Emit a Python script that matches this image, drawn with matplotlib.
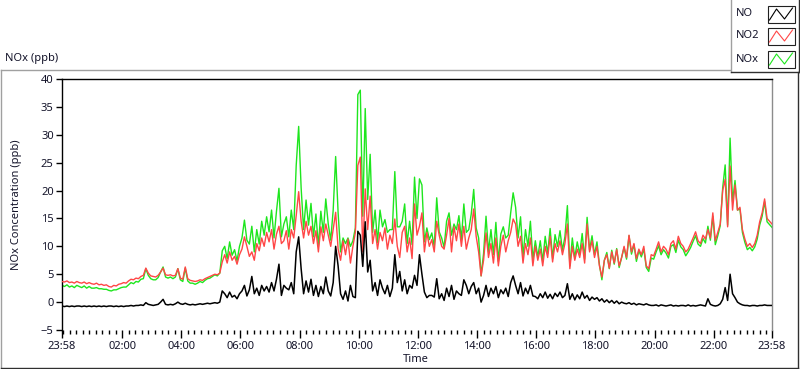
import numpy as np
import matplotlib
matplotlib.use("Agg")
import matplotlib.pyplot as plt
from matplotlib.lines import Line2D
from matplotlib.patches import Rectangle

plt.rcParams['font.family'] = ['Noto Sans', 'DejaVu Sans']

# ---- data (5-minute samples starting at 23:58) ----
NO2 = [
    3.7,3.6,3.8,3.5,3.6,3.4,3.7,3.5,3.4,3.6,3.3,3.5,
    3.3,3.2,3.4,3.1,3.2,3.0,3.1,2.8,2.7,3.0,2.9,3.2,
    3.3,3.5,3.4,3.8,4.1,4.0,4.3,4.2,4.6,4.8,6.1,5.2,
    4.7,4.6,4.5,4.8,5.4,6.1,4.9,4.8,4.9,4.7,4.8,6.0,
    4.3,4.1,6.3,4.2,3.9,3.8,3.7,3.8,4.0,3.9,4.2,4.4,
    4.6,4.8,5.0,4.9,5.2,7.2,8.5,7.0,9.0,7.5,8.2,6.8,
    8.5,9.5,11.7,10.0,8.2,9.0,7.5,10.5,9.2,11.5,10.0,12.5,
    10.8,13.0,9.5,12.2,13.6,10.5,11.0,12.8,9.5,13.0,11.5,15.5,
    19.8,14.5,11.5,14.5,12.0,13.6,10.5,12.8,9.0,13.5,11.0,14.0,
    12.0,10.0,13.0,16.1,9.5,7.5,11.0,8.5,11.3,7.0,10.0,12.5,
    24.5,26.0,9.0,20.3,13.0,19.0,10.5,13.0,9.5,12.5,11.0,13.3,
    9.5,12.0,10.5,14.9,10.0,8.0,12.5,13.6,9.0,11.5,7.8,17.6,
    12.0,13.6,16.0,9.0,12.5,10.0,11.2,9.0,14.5,12.0,10.0,9.5,
    12.0,15.0,9.0,13.5,11.0,14.0,10.0,13.6,9.5,11.5,13.0,16.7,
    11.8,9.0,4.7,7.5,12.4,8.0,10.5,7.0,11.5,6.5,10.0,12.0,
    9.0,11.0,12.5,14.9,14.0,10.0,11.8,7.0,10.5,8.5,11.5,6.5,
    10.0,7.5,9.5,6.5,10.0,8.0,11.8,7.2,10.5,9.0,11.0,8.5,
    10.5,14.0,6.0,10.0,7.5,9.5,8.0,10.5,7.0,14.0,9.0,11.0,
    8.0,10.0,6.5,4.5,7.5,8.5,6.1,9.0,7.0,9.4,6.5,8.0,
    10.0,8.0,12.0,9.0,10.5,7.8,9.5,8.5,10.0,6.5,6.0,8.5,
    8.3,9.5,10.8,9.0,10.0,9.5,8.5,10.5,11.0,9.5,11.8,10.5,
    10.0,9.0,9.5,10.5,11.5,12.6,11.0,10.5,12.0,11.3,13.0,11.5,
    16.0,11.0,12.5,14.0,20.0,22.0,13.5,24.4,16.5,21.0,16.5,17.0,
    13.0,11.3,10.0,10.5,9.8,10.5,12.0,14.4,16.0,18.5,15.0,14.5,14.0,
]

NO = [
    -0.7,-0.8,-0.7,-0.8,-0.7,-0.8,-0.7,-0.7,-0.8,-0.7,-0.8,-0.7,
    -0.8,-0.7,-0.8,-0.7,-0.8,-0.7,-0.8,-0.7,-0.7,-0.8,-0.7,-0.8,
    -0.7,-0.8,-0.7,-0.7,-0.6,-0.7,-0.6,-0.6,-0.5,-0.6,-0.1,-0.4,
    -0.5,-0.6,-0.5,-0.4,0.0,0.5,-0.4,-0.5,-0.4,-0.5,-0.3,0.0,
    -0.3,-0.4,-0.2,-0.4,-0.5,-0.4,-0.5,-0.4,-0.3,-0.4,-0.3,-0.2,
    -0.3,-0.2,-0.1,-0.2,0.0,2.0,1.5,0.8,1.8,0.9,1.2,0.6,
    1.5,2.0,3.0,1.1,2.2,4.6,1.5,2.5,1.2,3.0,2.0,2.8,
    1.8,3.5,2.0,4.1,6.8,1.2,3.0,2.5,2.2,3.5,1.5,9.0,
    11.7,6.0,1.5,3.8,1.8,4.1,1.2,3.0,1.0,2.8,1.5,4.5,
    2.0,1.1,3.5,10.0,6.5,1.5,0.5,2.0,0.2,3.0,1.0,0.8,
    12.7,12.0,6.4,14.4,5.4,7.5,2.0,3.5,1.2,4.0,2.5,1.5,
    3.0,1.0,2.5,8.5,3.5,5.5,2.0,4.0,1.5,3.0,2.5,4.8,
    3.0,8.5,5.0,1.8,0.8,1.2,1.2,0.9,4.2,0.6,1.5,0.3,
    2.5,1.0,3.0,0.5,2.0,1.5,1.2,4.0,3.0,1.5,2.8,3.5,
    1.5,2.5,0.0,1.2,3.0,1.0,2.5,1.5,2.8,0.8,2.2,1.5,
    2.5,1.0,3.5,4.7,3.0,1.5,3.5,1.1,2.5,1.5,3.0,1.1,
    1.0,0.6,1.5,0.8,1.8,0.7,1.4,0.6,1.6,1.0,1.8,0.8,
    1.2,3.3,0.5,1.5,0.4,1.3,0.6,1.8,0.7,1.2,0.3,0.9,
    0.5,0.8,0.2,0.6,0.0,0.4,-0.1,0.3,-0.2,0.2,-0.3,0.0,
    -0.2,-0.3,-0.1,-0.4,-0.2,-0.5,-0.3,-0.4,-0.5,-0.3,-0.5,-0.6,
    -0.6,-0.5,-0.7,-0.5,-0.6,-0.7,-0.6,-0.5,-0.7,-0.6,-0.7,-0.6,
    -0.6,-0.7,-0.5,-0.7,-0.6,-0.7,-0.6,-0.5,-0.6,-0.7,0.6,-0.4,
    -0.6,-0.7,-0.6,-0.3,0.5,2.6,0.3,5.0,1.5,0.8,0.0,-0.3,
    -0.5,-0.6,-0.6,-0.7,-0.6,-0.6,-0.7,-0.6,-0.6,-0.5,-0.6,-0.6,-0.6,
]

NOx = [
    3.0,2.8,3.1,2.7,2.9,2.6,3.0,2.8,2.6,2.9,2.5,2.8,
    2.5,2.5,2.6,2.4,2.4,2.3,2.3,2.1,2.0,2.2,2.2,2.4,
    2.6,2.7,2.7,3.1,3.5,3.3,3.7,3.6,4.1,4.2,6.0,4.8,
    4.2,4.0,4.0,4.4,5.4,6.3,4.5,4.3,4.5,4.2,4.5,6.0,
    4.0,3.7,6.1,3.8,3.4,3.4,3.2,3.4,3.7,3.5,3.9,4.2,
    4.3,4.6,4.9,4.7,5.2,9.2,10.0,7.8,10.8,8.4,9.4,7.4,
    10.0,11.5,14.7,11.1,10.4,13.6,9.0,13.0,10.4,14.5,12.0,15.3,
    12.6,16.5,11.5,16.3,20.4,11.7,14.0,15.3,11.7,16.5,13.0,24.5,
    31.5,20.5,13.0,18.3,13.8,17.7,11.7,15.8,10.0,16.3,12.5,18.5,
    14.0,11.1,16.5,26.1,16.0,9.0,11.5,10.5,11.5,10.0,11.0,13.3,
    37.2,38.0,15.4,34.7,18.4,26.5,12.5,16.5,10.7,16.5,13.5,14.8,
    12.5,13.0,13.0,23.4,13.5,13.5,14.5,17.6,10.5,14.5,10.3,22.4,
    15.0,22.1,21.0,10.8,13.3,11.2,12.4,9.9,18.7,12.6,11.5,9.8,
    14.5,16.0,12.0,14.0,13.0,15.5,11.2,17.6,12.5,13.0,15.8,20.2,
    13.3,11.5,4.7,8.7,15.4,9.0,13.0,8.5,14.3,7.3,12.2,13.5,
    11.5,12.0,16.0,19.6,17.0,11.5,15.3,8.1,13.0,10.0,14.5,7.6,
    11.0,8.1,11.0,7.3,11.8,8.7,13.2,7.8,12.1,10.0,12.8,9.3,
    11.7,17.3,6.5,11.5,7.9,10.8,8.6,12.3,7.7,15.2,9.3,11.9,
    8.5,10.8,6.7,4.0,7.5,8.9,6.0,9.3,6.8,9.6,6.2,8.0,
    9.8,7.7,11.9,8.6,10.3,7.3,9.2,8.1,9.5,6.2,5.5,7.9,
    7.7,9.0,10.1,8.5,9.4,8.8,7.9,10.0,10.3,8.9,11.1,9.9,
    9.4,8.3,9.0,9.8,10.9,11.9,10.4,10.0,11.4,10.6,13.6,11.1,
    15.4,10.3,11.9,13.7,20.5,24.6,13.8,29.4,18.0,21.8,16.5,16.7,
    12.5,10.7,9.4,9.8,9.2,9.9,11.3,13.8,15.4,18.0,14.4,13.9,13.4,
]

x_tick_labels = ["23:58", "02:00", "04:00", "06:00", "08:00", "10:00", "12:00",
                 "14:00", "16:00", "18:00", "20:00", "22:00", "23:58"]
# minutes after 23:58 for each tick label
x_tick_minutes = [0, 122, 242, 362, 482, 602, 722, 842, 962, 1082, 1202, 1322, 1440]
y_ticks = [-5, 0, 5, 10, 15, 20, 25, 30, 35, 40]

series_names = ["NO", "NO2", "NOx"]
series_colors = ["#000000", "#ff4646", "#1ee61e"]

# ---- figure ----
W, H = 800, 369
fig = plt.figure(figsize=(W / 100, H / 100), dpi=100, facecolor="white")

def fx(px):
    return px / W

def fy(py):
    return 1 - py / H

L, R, T, B = 62, 772, 79, 330
ax = fig.add_axes([fx(L), fy(B), fx(R - L), (B - T) / H])

t_no = np.linspace(0, 1440, len(NO))
t_no2 = np.linspace(0, 1440, len(NO2))
t_nox = np.linspace(0, 1440, len(NOx))

ax.plot(t_nox, NOx, color=series_colors[2], lw=1.0, zorder=2)
ax.plot(t_no2, NO2, color=series_colors[1], lw=1.0, zorder=3)
ax.plot(t_no, NO, color=series_colors[0], lw=1.1, zorder=4)

ax.set_xlim(0, 1440)
ax.set_ylim(-5, 40)

ax.set_xticks(x_tick_minutes)
ax.set_xticklabels(x_tick_labels)
minor = []
step = 120 / 9
k = -20
while True:
    v = 122 + k * step
    if v > 1440:
        break
    if 0 < v < 1440 and all(abs(v - m) > 1 for m in x_tick_minutes):
        minor.append(v)
    k += 1
ax.set_xticks(minor, minor=True)
ax.set_yticks(y_ticks)

text_color = "#14142a"
ax.tick_params(axis="x", which="major", direction="out", length=6, width=1,
               pad=2, labelsize=8, labelcolor=text_color, color="black")
ax.tick_params(axis="x", which="minor", direction="out", length=3, width=1,
               color="black")
ax.tick_params(axis="y", which="major", direction="out", length=4, width=1,
               pad=2, labelsize=8, labelcolor=text_color, color="black")

ax.spines["bottom"].set_visible(False)
ax.spines["left"].set_color("black")
ax.spines["top"].set_color("black")
ax.spines["right"].set_color("#8c8c8c")
for s in ["left", "top", "right"]:
    ax.spines[s].set_linewidth(1.0)

fig.text(fx(416), fy(360), "Time", ha="center", va="center", fontsize=8,
         color=text_color)
fig.text(fx(17), fy(205), "NOx Concentration (ppb)", ha="center", va="center",
         rotation=90, fontsize=8, color=text_color)
fig.text(fx(5), fy(58), "NOx (ppb)", ha="left", va="center", fontsize=8,
         color=text_color)

# ---- overlay for outer frame and legend (pixel coordinates) ----
ov = fig.add_axes([0, 0, 1, 1], zorder=5)
ov.set_xlim(0, W)
ov.set_ylim(H, 0)
ov.axis("off")
ov.patch.set_visible(False)

ov.add_line(Line2D([0.5, 730], [69.5, 69.5], color="#a0a0a0", lw=1))
ov.add_line(Line2D([0.5, 0.5], [69.5, 367.5], color="#a0a0a0", lw=1))
ov.add_line(Line2D([0.5, 797.5], [367.5, 367.5], color="#303030", lw=1))
ov.add_line(Line2D([797.5, 797.5], [72, 367.5], color="#303030", lw=1))

# legend box
ov.add_patch(Rectangle((730.5, 0), 68, 72, facecolor="white", edgecolor="none"))
ov.add_line(Line2D([730.5, 730.5], [0, 72], color="#a0a0a0", lw=1))
ov.add_line(Line2D([730.5, 799], [71.5, 71.5], color="#303030", lw=1))
ov.add_line(Line2D([798.5, 798.5], [0, 72], color="#303030", lw=1))

rows = [14, 36, 59]
for name, col, yc in zip(series_names, series_colors, rows):
    ov.text(736, yc, name, ha="left", va="center", fontsize=8, color=text_color)
    ov.add_patch(Rectangle((767.5, yc - 8.5), 27, 17, facecolor="white",
                           edgecolor="#202020", lw=0.8))
    ov.add_line(Line2D([769.5, 776.5, 784.5, 792.5],
                       [yc + 6, yc - 5, yc + 5, yc - 6], color=col, lw=0.8))

fig.savefig("out.png", dpi=100, facecolor="white")
